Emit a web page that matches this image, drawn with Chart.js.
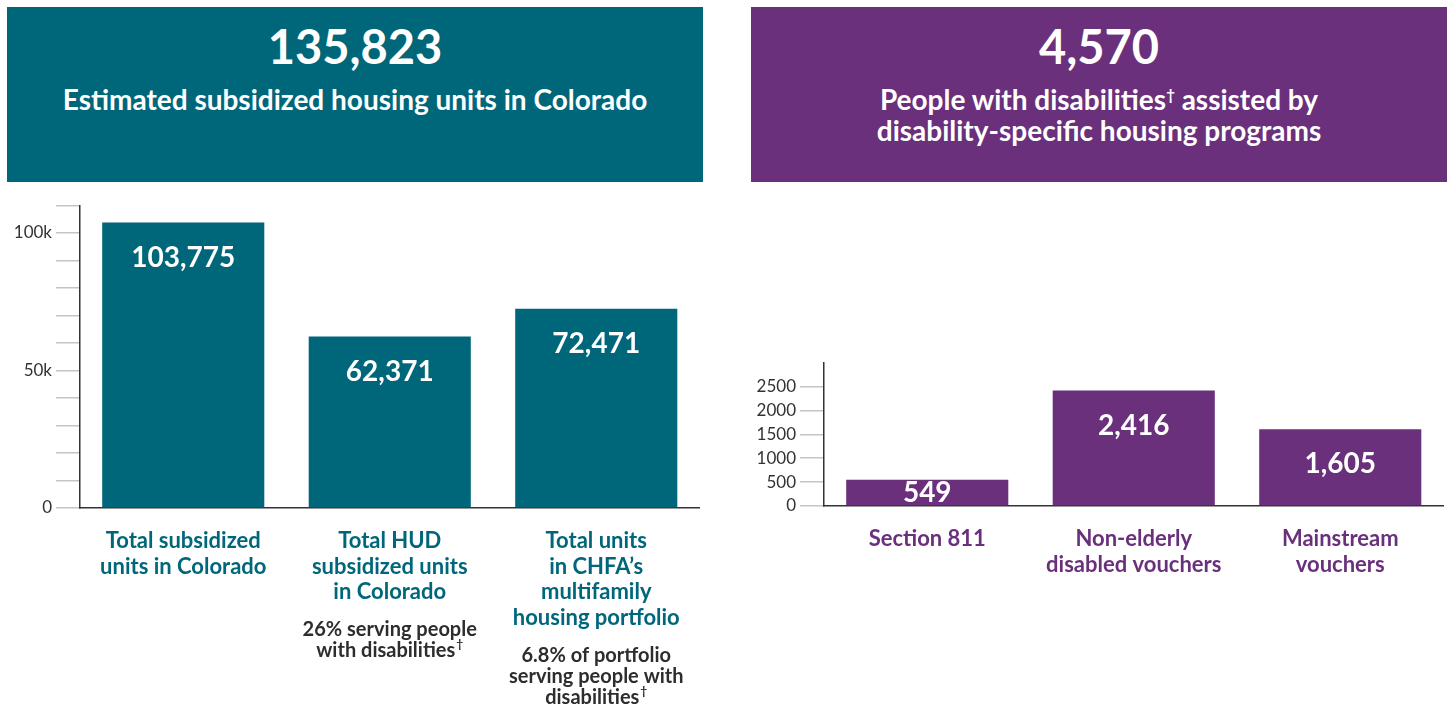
<!DOCTYPE html>
<html>
<head>
<meta charset="utf-8">
<script src="https://cdn.jsdelivr.net/npm/chart.js@4.4.1/dist/chart.umd.min.js"></script>
<style>
  body { margin: 0; width: 1453px; height: 711px; background: #fff; position: relative; overflow: hidden; font-family: Lato, "Open Sans", sans-serif; }
  .head { position: absolute; top: 7px; height: 175px; color: #fff; text-align: center; font-weight: 700; }
  .head .big { font-size: 47px; line-height: 47px; margin-top: 16px; }
  .head .sub { font-size: 28px; line-height: 31px; margin-top: 14px; }
  .head sup { font-size: 15px; line-height: 0; vertical-align: 10px; }
  #headL { left: 7px; width: 696px; background: #00677b; }
  #headR { left: 751px; width: 696px; background: #6a307b; }
  .wrap { position: absolute; top: 190px; height: 521px; }
</style>
</head>
<body>
<div class="head" id="headL">
  <div class="big">135,823</div>
  <div class="sub">Estimated subsidized housing units in Colorado</div>
</div>
<div class="head" id="headR">
  <div class="big">4,570</div>
  <div class="sub">People with disabilities<sup>†</sup> assisted by<br>disability-specific housing programs</div>
</div>
<div class="wrap" style="left:0;width:710px"><canvas id="left"></canvas></div>
<div class="wrap" style="left:740px;width:713px"><canvas id="right"></canvas></div>
<script>
// Left panel: subsidized units
const unitCategories = [
  ['Total subsidized', 'units in Colorado'],
  ['Total HUD', 'subsidized units', 'in Colorado'],
  ['Total units', 'in CHFA\u2019s', 'multifamily', 'housing portfolio']
];
const unitValues = [103775, 62371, 72471];
const unitNotes = [
  [],
  ['26% serving people', 'with disabilities\u2020'],
  ['6.8% of portfolio', 'serving people with', 'disabilities\u2020']
];
const unitTickLabels = { 0: '0', 50000: '50k', 100000: '100k' };

// Right panel: disability-specific programs
const programCategories = [
  ['Section 811'],
  ['Non-elderly', 'disabled vouchers'],
  ['Mainstream', 'vouchers']
];
const programValues = [549, 2416, 1605];
const programTickLabels = { 0: '0', 500: '500', 1000: '1000', 1500: '1500', 2000: '2000', 2500: '2500' };

const TEAL = '#00677b';
const PURPLE = '#6a307b';
const FONT = 'Lato, "Open Sans", sans-serif';

// white value inside each bar
const valueLabels = {
  id: 'valueLabels',
  afterDatasetsDraw(chart) {
    const ctx = chart.ctx;
    const meta = chart.getDatasetMeta(0);
    ctx.save();
    ctx.fillStyle = '#fff';
    ctx.font = '700 28px ' + FONT;
    ctx.textAlign = 'center';
    ctx.textBaseline = 'middle';
    meta.data.forEach((bar, i) => {
      const v = chart.data.datasets[0].data[i];
      const h = bar.base - bar.y;
      const y = h < 70 ? (bar.y + bar.base) / 2 : bar.y + 35;
      ctx.fillText(v.toLocaleString('en-US'), bar.x, y);
    });
    ctx.restore();
  }
};

// dark notes under the category labels (dagger as superscript)
const notesPlugin = {
  id: 'notes',
  afterDraw(chart, args, opts) {
    if (!opts.lines) return;
    const ctx = chart.ctx;
    const xs = chart.scales.x;
    ctx.save();
    ctx.fillStyle = '#2d2d2d';
    ctx.textBaseline = 'middle';
    opts.lines.forEach((lines, i) => {
      const nCat = chart.data.labels[i].length;
      const start = xs.top + 33 + (nCat - 1) * 25.7 + 37;
      const cx = xs.getPixelForValue(i);
      lines.forEach((t, j) => {
        const y = start + j * 21;
        const dag = t.endsWith('\u2020');
        const main = dag ? t.slice(0, -1) : t;
        ctx.font = '700 20px ' + FONT;
        const w1 = ctx.measureText(main).width;
        ctx.font = '700 12px ' + FONT;
        const w2 = dag ? ctx.measureText('\u2020').width + 1 : 0;
        const x0 = cx - (w1 + w2) / 2;
        ctx.textAlign = 'left';
        ctx.font = '700 20px ' + FONT;
        ctx.fillText(main, x0, y);
        if (dag) {
          ctx.font = '700 12px ' + FONT;
          ctx.fillText('\u2020', x0 + w1 + 1, y - 6);
        }
      });
    });
    ctx.restore();
  }
};

function makeChart(id, labels, values, color, yMax, step, tickMap, showTop, yWidth, pad, xHeight, notes) {
  return new Chart(document.getElementById(id), {
    type: 'bar',
    data: {
      labels: labels,
      datasets: [{ data: values, backgroundColor: color, barPercentage: 0.785, categoryPercentage: 1 }]
    },
    options: {
      responsive: true,
      maintainAspectRatio: false,
      animation: false,
      layout: { padding: pad },
      plugins: { legend: { display: false }, tooltip: { enabled: false }, notes: { lines: notes } },
      scales: {
        x: {
          grid: { display: false, drawTicks: false },
          border: { color: '#333', width: 1.5 },
          ticks: { color: color, padding: 20, font: { family: FONT, size: 22, weight: '700', lineHeight: 1.17 } },
          afterFit(s) { s.height = xHeight; }
        },
        y: {
          min: 0, max: yMax,
          grid: { drawOnChartArea: false, drawTicks: true, tickLength: 24, tickColor: '#c4c4c4', lineWidth: 1.5 },
          border: { color: '#333', width: 1.5 },
          ticks: {
            stepSize: step, padding: 4, color: '#333',
            font: { family: FONT, size: 17 },
            callback(v) {
              if (v === yMax && !showTop) return null;
              return tickMap[v] !== undefined ? tickMap[v] : '';
            }
          },
          afterFit(s) { s.width = yWidth; }
        }
      }
    },
    plugins: [valueLabels, notesPlugin]
  });
}

makeChart('left', unitCategories, unitValues, TEAL, 110000, 10000, unitTickLabels, true,
  80, { top: 15.5, right: 10.5, left: 0, bottom: 0 }, 203, unitNotes);
makeChart('right', programCategories, programValues, PURPLE, 3000, 500, programTickLabels, false,
  84, { top: 172.7, right: 9.5, left: 0, bottom: 0 }, 205, []);
</script>
</body>
</html>
